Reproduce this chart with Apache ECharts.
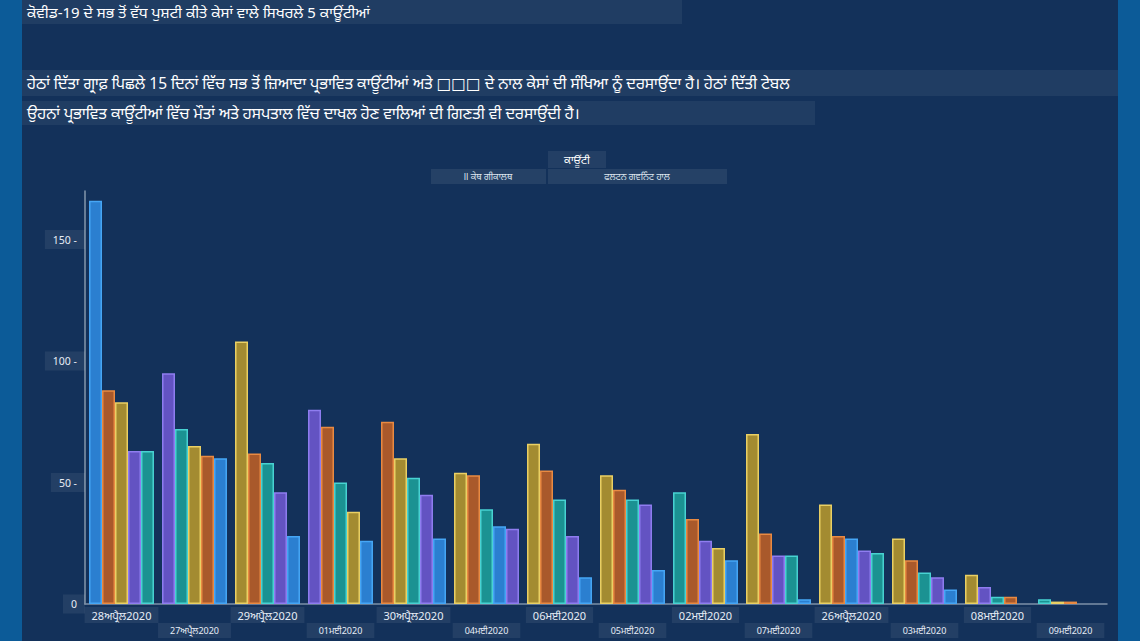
<!DOCTYPE html>
<html>
<head>
<meta charset="utf-8">
<script src="https://cdn.jsdelivr.net/npm/echarts@6/dist/echarts.min.js"></script>
<style>
html,body{margin:0;padding:0;width:1140px;height:641px;overflow:hidden;
background:linear-gradient(to right,#0c5b98 0,#0c5b98 22px,#13315a 22px,#13315a 1118px,#0c5b98 1118px);}
#chart{width:1140px;height:641px;}
</style>
</head>
<body>
<div id="chart"></div>
<script>
// ---- data ----
const titleText = 'ਕੋਵੀਡ-19 ਦੇ ਸਭ ਤੋਂ ਵੱਧ ਪੁਸ਼ਟੀ ਕੀਤੇ ਕੇਸਾਂ ਵਾਲੇ ਸਿਖਰਲੇ 5 ਕਾਊਂਟੀਆਂ';
const descLine1 = 'ਹੇਠਾਂ ਦਿੱਤਾ ਗ੍ਰਾਫ਼ ਪਿਛਲੇ 15 ਦਿਨਾਂ ਵਿੱਚ ਸਭ ਤੋਂ ਜ਼ਿਆਦਾ ਪ੍ਰਭਾਵਿਤ ਕਾਊਂਟੀਆਂ ਅਤੇ □□□ ਦੇ ਨਾਲ ਕੇਸਾਂ ਦੀ ਸੰਖਿਆ ਨੂੰ ਦਰਸਾਉਂਦਾ ਹੈ। ਹੇਠਾਂ ਦਿੱਤੀ ਟੇਬਲ';
const descLine2 = 'ਉਹਨਾਂ ਪ੍ਰਭਾਵਿਤ ਕਾਊਂਟੀਆਂ ਵਿੱਚ ਮੌਤਾਂ ਅਤੇ ਹਸਪਤਾਲ ਵਿੱਚ ਦਾਖਲ ਹੋਣ ਵਾਲਿਆਂ ਦੀ ਗਿਣਤੀ ਵੀ ਦਰਸਾਉਂਦੀ ਹੈ।';
const legendTitle = 'ਕਾਊਂਟੀ';
const legendItems = ['ll ਕੇਥ ਗੀਕਾਲਥ', 'ਫਲਟਨ ਗਵਨਿੰਟ ਹਾਲ'];

const categories = ['28ਅਪ੍ਰੈਲ2020','27ਅਪ੍ਰੈਲ2020','29ਅਪ੍ਰੈਲ2020','01ਮਈ2020','30ਅਪ੍ਰੈਲ2020','04ਮਈ2020','06ਮਈ2020','05ਮਈ2020','02ਮਈ2020','07ਮਈ2020','26ਅਪ੍ਰੈਲ2020','03ਮਈ2020','08ਮਈ2020','09ਮਈ2020'];

// values of the 1st..5th highest county on each date
const rank1 = [166, 95,108, 80, 75, 54, 66, 53, 46, 70, 41, 27, 12, 2];
const rank2 = [ 88, 72, 62, 73, 60, 53, 55, 47, 35, 29, 28, 18,  7, 1];
const rank3 = [ 83, 65, 58, 50, 52, 39, 43, 43, 26, 20, 27, 13,  3, 1];
const rank4 = [ 63, 61, 46, 38, 45, 32, 28, 41, 23, 20, 22, 11,  3, null];
const rank5 = [ 63, 60, 28, 26, 27, 31, 11, 14, 18,  2, 21,  6, null, null];

// which county (B,O,Y,P,T) each ranked bar belongs to
const rank1County = 'BPYPOYYYTYYYYT';
const rank2County = 'OTOOYOOOOOOOPY';
const rank3County = 'YYTTTTTTPPBTTO';
const rank4County = 'POPYPBPPYTPPO-';
const rank5County = 'TBBBBPBBBBTB--';

const yTicks = [0, 50, 100, 150];

// ---- styles ----
const fills = {B:'#2b7fd0', O:'#a9592b', Y:'#a38b31', P:'#6353c2', T:'#1b9292'};
const borders = {B:'#46a6f5', O:'#e98a42', Y:'#ead064', P:'#8f7df0', T:'#48d2d2'};
const FONT = "'Noto Sans', 'Noto Sans Gurmukhi', 'DejaVu Sans', sans-serif";

function buildSeries(values, county){
  return {
    type: 'bar',
    barGap: '0%',
    barCategoryGap: '11%',
    data: values.map((v, i) => {
      const k = county[i];
      if (v == null || k === '-') return {value: null};
      return {value: v, itemStyle: {color: fills[k], borderColor: borders[k], borderWidth: 1.5}};
    })
  };
}

const labelBox = {backgroundColor: 'rgba(255,255,255,0.07)', color: '#e6ecf5', fontFamily: FONT};

const chart = echarts.init(document.getElementById('chart'), null, {renderer: 'svg'});
chart.setOption({
  backgroundColor: 'transparent',
  animation: false,
  textStyle: {fontFamily: FONT},
  grid: {left: 85, right: 33, top: 191, bottom: 37, containLabel: false},
  xAxis: [{
    type: 'category',
    data: categories,
    position: 'bottom',
    axisLine: {show: true, lineStyle: {color: '#7d90a8', width: 1.5}},
    axisTick: {show: false},
    axisLabel: Object.assign({
      interval: (i) => i % 2 === 0,
      margin: 3, fontSize: 11, padding: [3, 7, 2, 7]
    }, labelBox)
  }, {
    type: 'category',
    data: categories,
    position: 'bottom',
    axisLine: {show: false},
    axisTick: {show: false},
    axisLabel: Object.assign({
      interval: (i) => i % 2 === 1,
      margin: 19, fontSize: 9, padding: [3, 12, 3, 12]
    }, labelBox)
  }],
  yAxis: {
    type: 'value',
    min: 0, max: 170, interval: 50,
    splitLine: {show: false},
    axisTick: {show: false},
    axisLine: {show: true, lineStyle: {color: '#8597ad', width: 1.5}},
    axisLabel: Object.assign({
      showMaxLabel: false, fontSize: 10.5, margin: 0, padding: [4, 8, 4, 8],
      formatter: (v) => yTicks.includes(v) ? (v === 0 ? String(v) : v + ' -') : ''
    }, labelBox)
  },
  graphic: [
    {type: 'rect', shape: {x: 22, y: 0, width: 660, height: 24}, style: {fill: 'rgba(255,255,255,0.06)'}},
    {type: 'text', x: 27, y: 12, style: {text: titleText, fill: '#ffffff', font: "15px " + FONT, textVerticalAlign: 'middle'}},
    {type: 'rect', shape: {x: 22, y: 70, width: 1096, height: 26}, style: {fill: 'rgba(255,255,255,0.06)'}},
    {type: 'text', x: 27, y: 83, style: {text: descLine1, fill: '#ffffff', font: "15.5px " + FONT, textVerticalAlign: 'middle'}},
    {type: 'rect', shape: {x: 22, y: 101, width: 793, height: 24}, style: {fill: 'rgba(255,255,255,0.06)'}},
    {type: 'text', x: 27, y: 113, style: {text: descLine2, fill: '#ffffff', font: "15.5px " + FONT, textVerticalAlign: 'middle'}},
    {type: 'rect', shape: {x: 548, y: 151, width: 58, height: 17}, style: {fill: 'rgba(255,255,255,0.07)'}},
    {type: 'text', x: 577, y: 159, style: {text: legendTitle, fill: '#ffffff', font: "11px " + FONT, textAlign: 'center', textVerticalAlign: 'middle'}},
    {type: 'rect', shape: {x: 431, y: 169, width: 115, height: 15}, style: {fill: 'rgba(255,255,255,0.08)'}},
    {type: 'text', x: 488, y: 176.5, style: {text: legendItems[0], fill: '#dfe6ef', font: "9px " + FONT, textAlign: 'center', textVerticalAlign: 'middle'}},
    {type: 'rect', shape: {x: 548, y: 169, width: 179, height: 15}, style: {fill: 'rgba(255,255,255,0.08)'}},
    {type: 'text', x: 637, y: 176.5, style: {text: legendItems[1], fill: '#dfe6ef', font: "9px " + FONT, textAlign: 'center', textVerticalAlign: 'middle'}}
  ],
  series: [
    buildSeries(rank1, rank1County),
    buildSeries(rank2, rank2County),
    buildSeries(rank3, rank3County),
    buildSeries(rank4, rank4County),
    buildSeries(rank5, rank5County)
  ]
});
</script>
</body>
</html>
